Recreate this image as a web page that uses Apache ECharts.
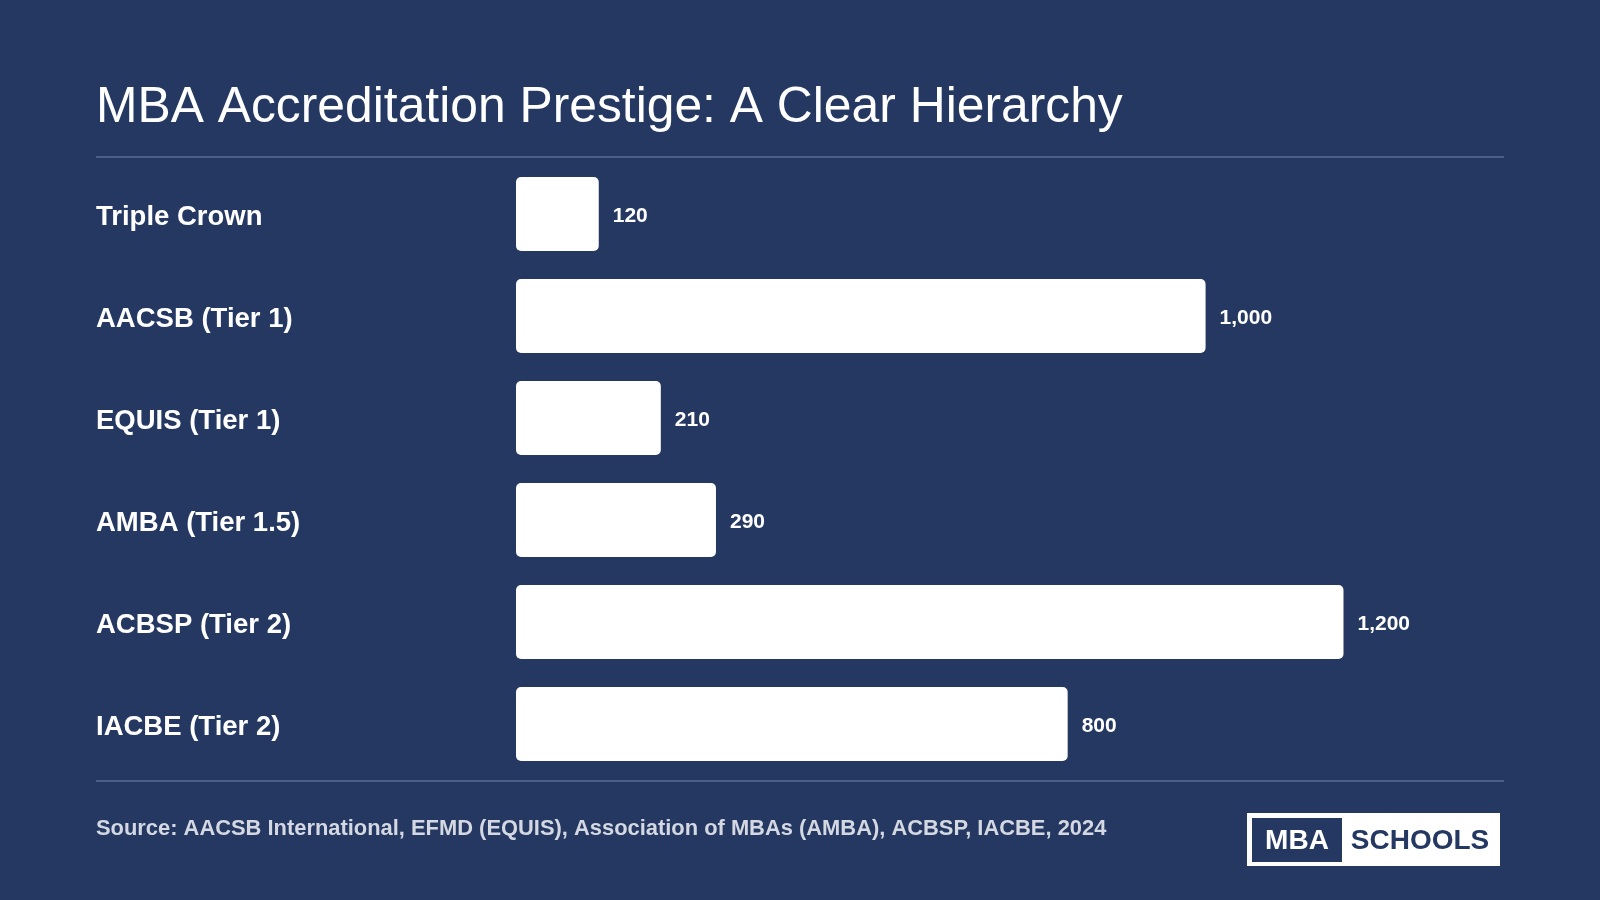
<!DOCTYPE html>
<html>
<head>
<meta charset="utf-8">
<script src="https://cdn.jsdelivr.net/npm/echarts@6/dist/echarts.min.js"></script>
<style>
  html, body { margin: 0; padding: 0; background: #243862; }
  #main { width: 1600px; height: 900px; }
</style>
</head>
<body>
<div id="main"></div>
<script>
// data
var categories = ['Triple Crown', 'AACSB (Tier 1)', 'EQUIS (Tier 1)', 'AMBA (Tier 1.5)', 'ACBSP (Tier 2)', 'IACBE (Tier 2)'];
var schools = [120, 1000, 210, 290, 1200, 800];

var bg = '#243862';
var lineColor = '#4b5f84';
var font = '"Liberation Sans", Helvetica, Arial, sans-serif';

var myChart = echarts.init(document.getElementById('main'));

var option = {
    backgroundColor: bg,
    animation: false,
    grid: {
        left: 516,
        right: 91,
        top: 163,
        bottom: 125
    },
    xAxis: {
        type: 'value',
        min: 0,
        max: 1440,
        show: false
    },
    yAxis: {
        type: 'category',
        data: categories,
        inverse: true,
        axisLine: { show: false },
        axisTick: { show: false },
        splitLine: { show: false },
        axisLabel: {
            align: 'left',
            margin: 420,
            formatter: '{a|{value}}',
            rich: {
                a: {
                    color: '#ffffff',
                    fontFamily: font,
                    fontWeight: 'bold',
                    fontSize: 27.5,
                    padding: [6, 0, 0, 0]
                }
            }
        }
    },
    series: [{
        type: 'bar',
        data: schools,
        barCategoryGap: '27.5%',
        itemStyle: {
            color: '#ffffff',
            borderRadius: 5
        },
        label: {
            show: true,
            position: 'right',
            distance: 14,
            offset: [0, 2],
            color: '#ffffff',
            fontFamily: font,
            fontWeight: 'bold',
            fontSize: 21,
            formatter: function (p) {
                return p.value.toLocaleString('en-US');
            }
        }
    }],
    graphic: [
        // title
        {
            type: 'text',
            left: 96,
            top: 83,
            style: {
                text: 'MBA Accreditation Prestige: A Clear Hierarchy',
                fill: '#ffffff',
                font: '49.8px ' + font
            }
        },
        // separator lines
        {
            type: 'rect',
            shape: { x: 96, y: 156, width: 1408, height: 2 },
            style: { fill: lineColor }
        },
        {
            type: 'rect',
            shape: { x: 96, y: 780, width: 1408, height: 2 },
            style: { fill: lineColor }
        },
        // source note
        {
            type: 'text',
            left: 96,
            top: 818,
            style: {
                text: 'Source: AACSB International, EFMD (EQUIS), Association of MBAs (AMBA), ACBSP, IACBE, 2024',
                fill: '#d3d8e2',
                font: 'bold 21.9px ' + font
            }
        },
        // logo
        {
            type: 'rect',
            shape: { x: 1247, y: 813, width: 253, height: 53 },
            style: { fill: '#ffffff' }
        },
        {
            type: 'rect',
            shape: { x: 1252, y: 818, width: 90, height: 44 },
            style: { fill: bg }
        },
        {
            type: 'text',
            x: 1297,
            y: 841,
            style: {
                text: 'MBA',
                fill: '#ffffff',
                font: 'bold 28px ' + font,
                align: 'center',
                verticalAlign: 'middle'
            }
        },
        {
            type: 'text',
            x: 1420,
            y: 841,
            style: {
                text: 'SCHOOLS',
                fill: bg,
                font: 'bold 28px ' + font,
                align: 'center',
                verticalAlign: 'middle'
            }
        }
    ]
};

myChart.setOption(option);
</script>
</body>
</html>
